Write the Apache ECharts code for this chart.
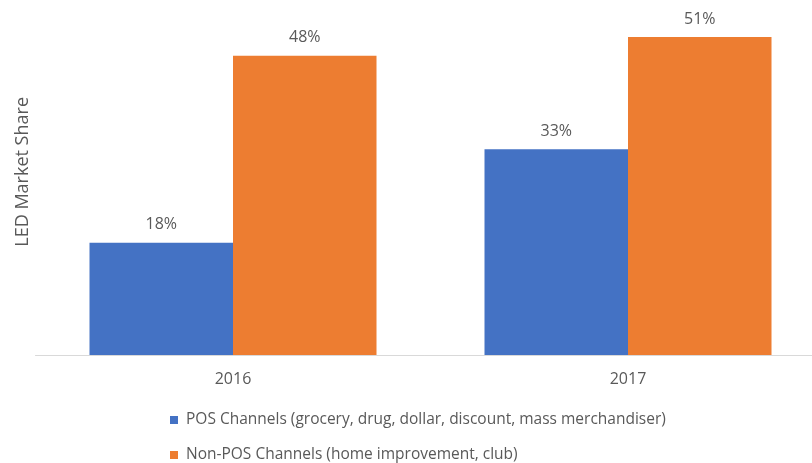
<!DOCTYPE html>
<html>
<head>
<meta charset="utf-8">
<script src="https://cdn.jsdelivr.net/npm/echarts@6/dist/echarts.min.js"></script>
<style>
  html, body { margin: 0; padding: 0; background: #ffffff; }
  #chart { width: 812px; height: 463px; }
</style>
</head>
<body>
<div id="chart"></div>
<script>
// Years on the category axis
const years = ['2016', '2017'];
// LED market share by channel type (percent)
const posShare = [18, 33];
const nonPosShare = [48, 51];
// Series names shown in the legend
const posName = 'POS Channels (grocery, drug, dollar, discount, mass merchandiser)';
const nonPosName = 'Non-POS Channels (home improvement, club)';
const axisTitle = 'LED Market Share';

const FONT = '"Open Sans", "Noto Sans", sans-serif';
const TEXT = '#595959';

const chart = echarts.init(document.getElementById('chart'), null, { renderer: 'canvas' });

const barLabel = {
  show: true,
  position: 'top',
  distance: 10,
  formatter: p => p.value + '%',
  color: TEXT,
  fontFamily: FONT,
  fontSize: 16
};

chart.setOption({
  animation: false,
  backgroundColor: '#ffffff',
  grid: {
    left: 35.5, width: 790, top: 12, height: 343,
    containLabel: false,
    outerBoundsMode: 'none'
  },
  xAxis: {
    type: 'category',
    data: years,
    axisLine: { show: true, lineStyle: { color: '#d9d9d9', width: 1 } },
    axisTick: { show: false },
    axisLabel: { color: TEXT, fontFamily: FONT, fontSize: 16, margin: 16 }
  },
  yAxis: {
    type: 'value',
    min: 0,
    max: 55,
    show: false,
    splitLine: { show: false }
  },
  legend: {
    orient: 'vertical',
    left: 170,
    top: 412,
    height: 60,
    padding: 0,
    itemWidth: 8,
    itemHeight: 8,
    itemGap: 19,
    icon: 'rect',
    textStyle: { color: TEXT, fontFamily: FONT, fontSize: 15.5, lineHeight: 16, padding: [0, 0, 0, 3] },
    data: [posName, nonPosName]
  },
  graphic: [{
    type: 'text',
    left: 14,
    top: 97,
    rotation: Math.PI / 2,
    style: {
      text: axisTitle,
      fill: TEXT,
      font: '18px ' + FONT
    }
  }],
  series: [
    {
      name: posName,
      type: 'bar',
      data: posShare,
      barWidth: 143.5,
      barGap: '0%',
      itemStyle: { color: '#4472c4' },
      label: barLabel
    },
    {
      name: nonPosName,
      type: 'bar',
      data: nonPosShare,
      barWidth: 143.5,
      barGap: '0%',
      itemStyle: { color: '#ed7d31' },
      label: barLabel
    }
  ]
});
</script>
</body>
</html>
